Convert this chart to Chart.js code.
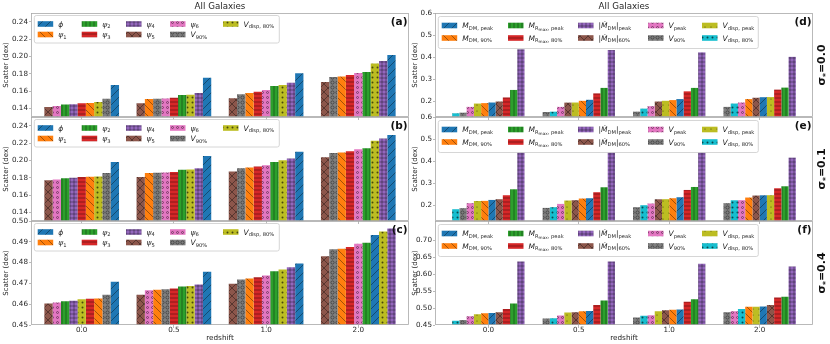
<!DOCTYPE html>
<html>
<head>
<meta charset="utf-8">
<script src="https://cdn.jsdelivr.net/npm/chart.js@4.4.0/dist/chart.umd.min.js"></script>
<style>
  html, body { margin: 0; padding: 0; background: #fff; }
  #wrap { position: relative; width: 830px; height: 344px; }
  #wrap canvas { position: absolute; left: 0; top: 0; }
</style>
</head>
<body>
<div id="wrap"></div>
<script>
// redshift bins (x categories)
const redshifts = ['0.0', '0.5', '1.0', '2.0'];

// left column series: phi, psi1..psi6, V90%, Vdisp,80%
const leftLabels = ['ϕ', 'ψ_1', 'ψ_2', 'ψ_3', 'ψ_4', 'ψ_5', 'ψ_6', 'V_{90%}', 'V_{disp, 80%}'];
// right column series
const rightLabels = ['M_{DM, peak}', 'M_{DM, 90%}', 'M_{R_{max}, peak}', 'M_{R_{max}, 80%}',
  '|Ṁ_{DM}|_{peak}', '|Ṁ_{DM}|_{60%}', 'V_{peak}', 'V_{90%}', 'V_{disp, peak}', 'V_{disp, 80%}'];

// scatter per series (rows, legend order) and redshift (columns)
const scatterA = [
  [0.167, 0.1754, 0.1805, 0.2016],
  [0.1461, 0.1508, 0.1577, 0.1766],
  [0.1444, 0.1553, 0.1658, 0.182],
  [0.1458, 0.1523, 0.1592, 0.1785],
  [0.1447, 0.1577, 0.1696, 0.1947],
  [0.1415, 0.1458, 0.1516, 0.1704],
  [0.1427, 0.1514, 0.1612, 0.1808],
  [0.151, 0.1511, 0.1562, 0.1762],
  [0.1473, 0.1557, 0.1669, 0.1916]
];
const scatterB = [
  [0.1981, 0.2051, 0.2098, 0.2292],
  [0.1811, 0.1855, 0.1916, 0.2091],
  [0.1792, 0.1891, 0.1981, 0.214],
  [0.1808, 0.1866, 0.1928, 0.2106],
  [0.18, 0.1908, 0.2021, 0.2253],
  [0.1769, 0.1807, 0.187, 0.2036],
  [0.178, 0.1861, 0.1943, 0.2129],
  [0.1853, 0.1858, 0.1908, 0.2086],
  [0.1814, 0.1894, 0.2001, 0.2226]
];
const scatterC = [
  [0.4708, 0.4756, 0.4796, 0.4933],
  [0.4628, 0.467, 0.4724, 0.4867],
  [0.4614, 0.4685, 0.4759, 0.4896],
  [0.4626, 0.4675, 0.473, 0.4875],
  [0.4617, 0.4695, 0.4778, 0.4964],
  [0.4603, 0.4645, 0.4698, 0.4831],
  [0.4608, 0.4667, 0.4738, 0.4891],
  [0.4645, 0.4672, 0.4719, 0.4864],
  [0.4624, 0.4688, 0.4767, 0.4949]
];
const scatterD = [
  [0.1954, 0.2078, 0.211, 0.2195],
  [0.1927, 0.2032, 0.2064, 0.211],
  [0.2523, 0.2615, 0.2615, 0.2628],
  [0.2183, 0.2367, 0.2459, 0.2537],
  [0.4358, 0.4326, 0.422, 0.4018],
  [0.2, 0.195, 0.2, 0.217],
  [0.1757, 0.1757, 0.179, 0.1954],
  [0.1495, 0.1527, 0.1541, 0.1757],
  [0.1908, 0.1954, 0.2032, 0.22],
  [0.1468, 0.1541, 0.1679, 0.1908]
];
const scatterE = [
  [0.2252, 0.2329, 0.2374, 0.2462],
  [0.2209, 0.2315, 0.2329, 0.236],
  [0.2734, 0.2824, 0.2838, 0.2869],
  [0.2464, 0.26, 0.2703, 0.2779],
  [0.441, 0.441, 0.441, 0.4162],
  [0.2284, 0.2239, 0.2282, 0.245],
  [0.2104, 0.2072, 0.209, 0.2241],
  [0.1878, 0.1892, 0.1923, 0.2104],
  [0.2205, 0.2225, 0.2286, 0.2466],
  [0.1833, 0.1923, 0.2014, 0.2237]
];
const scatterF = [
  [0.4852, 0.4916, 0.4958, 0.5044],
  [0.4845, 0.4905, 0.4952, 0.5038],
  [0.5139, 0.5227, 0.5265, 0.5332],
  [0.4974, 0.509, 0.5186, 0.5314],
  [0.6378, 0.6378, 0.6311, 0.6233],
  [0.4878, 0.4878, 0.4936, 0.509],
  [0.4762, 0.4779, 0.4791, 0.4907],
  [0.4645, 0.4693, 0.4721, 0.4878],
  [0.482, 0.4866, 0.4907, 0.5041],
  [0.4625, 0.4703, 0.477, 0.4974]
];

// y tick values
const yTicksAB = [0.14, 0.16, 0.18, 0.20, 0.22, 0.24];
const yTicksC = [0.45, 0.46, 0.47, 0.48, 0.49, 0.50];
const yTicksDE = [0.2, 0.3, 0.4, 0.5, 0.6];
const yTicksF = [0.45, 0.50, 0.55, 0.60, 0.65, 0.70];

const sigmaLevels = ['0.0', '0.1', '0.4'];

// styles
const leftColors = ['#1f77b4', '#ff7f0e', '#2ca02c', '#d62728', '#9467bd', '#8c564b', '#e377c2', '#7f7f7f', '#bcbd22'];
const leftHatches = ['/', '\\', '|', '-', '+', 'x', 'o', 'O', '*'];
const rightColors = ['#1f77b4', '#ff7f0e', '#2ca02c', '#d62728', '#9467bd', '#8c564b', '#e377c2', '#7f7f7f', '#bcbd22', '#17becf'];
const rightHatches = ['/', '\\', '|', '-', '+', 'x', 'o', 'O', '.', '*'];

const FONT = "'DejaVu Sans', sans-serif";
const INK = '#262626';
const FRAME = '#a8a8a8';
const HATCH_INK = 'rgba(0,0,0,0.62)';

const columns = [
  { left: 31, right: 409, xMin: -0.55, xMax: 3.55, barSpan: 0.81, labels: leftLabels,
    colors: leftColors, hatches: leftHatches, legendW: 245, legendH: 27.5, legendTop: 2.5,
    legendRows: [8.5, 19], legendCols: [3.4, 47.4, 91.7, 135.7, 188.7], yLabelX: 6 },
  { left: 435, right: 813, xMin: -0.59, xMax: 3.59, barSpan: 0.80, labels: rightLabels,
    colors: rightColors, hatches: rightHatches, legendW: 320, legendH: 32, legendTop: 3.5,
    legendRows: [9, 21.5], legendCols: [3.4, 69.7, 139.7, 209.7, 263.7], yLabelX: 415.5 }
];
const rowTops = [13, 117, 221];
const ROW_H = 104;

const panels = [
  { tag: '(a)', col: 0, row: 0, values: scatterA, yMin: 0.13, yMax: 0.25, ticks: yTicksAB, digits: 2 },
  { tag: '(b)', col: 0, row: 1, values: scatterB, yMin: 0.13, yMax: 0.25, ticks: yTicksAB, digits: 2 },
  { tag: '(c)', col: 0, row: 2, values: scatterC, yMin: 0.45, yMax: 0.50, ticks: yTicksC, digits: 2 },
  { tag: '(d)', col: 1, row: 0, values: scatterD, yMin: 0.13, yMax: 0.60, ticks: yTicksDE, digits: 1 },
  { tag: '(e)', col: 1, row: 1, values: scatterE, yMin: 0.13, yMax: 0.60, ticks: yTicksDE, digits: 1 },
  { tag: '(f)', col: 1, row: 2, values: scatterF, yMin: 0.45, yMax: 0.7575, ticks: yTicksF, digits: 2 }
];

function makePattern(ctx, color, hatch) {
  const size = { '/': 8, '\\': 8, 'x': 8, '|': 4, '-': 4, '+': 4, 'o': 5, 'O': 5, '*': 5, '.': 6 }[hatch];
  const tile = document.createElement('canvas');
  tile.width = tile.height = size;
  const g = tile.getContext('2d');
  g.fillStyle = color;
  g.fillRect(0, 0, size, size);
  g.strokeStyle = HATCH_INK;
  g.fillStyle = HATCH_INK;
  g.lineWidth = 0.6;
  const line = (x1, y1, x2, y2) => { g.beginPath(); g.moveTo(x1, y1); g.lineTo(x2, y2); g.stroke(); };
  if (hatch === '/' || hatch === 'x') {
    line(-1, size + 1, size + 1, -1); line(-1, 1, 1, -1); line(size - 1, size + 1, size + 1, size - 1);
  }
  if (hatch === '\\' || hatch === 'x') {
    line(-1, -1, size + 1, size + 1); line(size - 1, -1, size + 1, 1); line(-1, size - 1, 1, size + 1);
  }
  if (hatch === '|' || hatch === '+') line(size / 2, 0, size / 2, size);
  if (hatch === '-' || hatch === '+') line(0, size / 2, size, size / 2);
  if (hatch === 'o' || hatch === 'O') {
    g.beginPath(); g.arc(size / 2, size / 2, hatch === 'o' ? 1.0 : 1.6, 0, 2 * Math.PI); g.stroke();
  }
  if (hatch === '*' || hatch === '.') {
    g.beginPath(); g.arc(size / 2, size / 2, hatch === '*' ? 1.0 : 0.6, 0, 2 * Math.PI); g.fill();
  }
  return ctx.createPattern(tile, 'repeat');
}

// tiny mathtext: x_{sub} and x_c, nested
function parseMath(s) {
  const runs = [];
  function walk(str, level) {
    let i = 0;
    while (i < str.length) {
      if (str[i] === '_') {
        let j = i + 1, sub;
        if (str[j] === '{') {
          let depth = 1, k = j + 1;
          while (depth > 0) {
            if (str[k] === '{') depth++;
            else if (str[k] === '}') depth--;
            k++;
          }
          sub = str.slice(j + 1, k - 1);
          i = k;
        } else {
          sub = str[j];
          i = j + 1;
        }
        walk(sub, level + 1);
      } else {
        runs.push({ ch: str[i], level });
        i++;
      }
    }
  }
  walk(s, 0);
  return runs;
}

function drawMath(ctx, str, x, baseline) {
  const sizes = [7.5, 5.2, 4.2];
  const drops = [0, 1.6, 2.8];
  let cx = x;
  ctx.textAlign = 'left';
  ctx.textBaseline = 'alphabetic';
  for (const r of parseMath(str)) {
    const italic = r.level === 0 && /[A-Za-zϕψṀ]/.test(r.ch);
    ctx.font = (italic ? 'italic ' : '') + sizes[r.level] + 'px ' + FONT;
    ctx.fillText(r.ch, cx, baseline + drops[r.level]);
    cx += ctx.measureText(r.ch).width;
  }
}

function decor(p, col, patterns) {
  return {
    id: 'decor',
    afterDraw(chart) {
      const ctx = chart.ctx;
      const { left, right, top, bottom } = chart.chartArea;
      ctx.save();

      // axes frame
      ctx.strokeStyle = FRAME;
      ctx.lineWidth = 0.8;
      ctx.strokeRect(left + 0.5, top + 0.5, right - left - 1, bottom - top - 1);

      // legend
      const lx = left + 3.3, ly = top + col.legendTop;
      ctx.beginPath();
      ctx.roundRect(lx, ly, col.legendW, col.legendH, 2);
      ctx.fillStyle = 'rgba(255,255,255,0.85)';
      ctx.fill();
      ctx.strokeStyle = '#cccccc';
      ctx.lineWidth = 0.8;
      ctx.stroke();
      col.labels.forEach((label, i) => {
        const sx = lx + col.legendCols[Math.floor(i / 2)];
        const sy = ly + col.legendRows[i % 2];
        ctx.fillStyle = patterns[i];
        ctx.fillRect(sx, sy - 2.8, 15.5, 5.6);
        ctx.fillStyle = INK;
        drawMath(ctx, label, sx + 20.5, sy + 2.6);
      });

      // panel tag
      ctx.fillStyle = '#111';
      ctx.font = 'bold 10.5px ' + FONT;
      ctx.textAlign = 'right';
      ctx.textBaseline = 'top';
      ctx.fillText(p.tag, right - 1.5, top + 4);

      // y label
      const cy = (top + bottom) / 2;
      ctx.fillStyle = INK;
      ctx.font = '7px ' + FONT;
      ctx.save();
      ctx.translate(col.yLabelX, cy);
      ctx.rotate(-Math.PI / 2);
      ctx.textAlign = 'center';
      ctx.textBaseline = 'middle';
      ctx.fillText('Scatter (dex)', 0, 0);
      ctx.restore();

      const midX = (left + right) / 2;
      if (p.row === 0) {
        ctx.font = '8.7px ' + FONT;
        ctx.textAlign = 'center';
        ctx.textBaseline = 'middle';
        ctx.fillText('All Galaxies', midX, 6.5);
      }
      if (p.row === 2) {
        ctx.font = '7.3px ' + FONT;
        ctx.textAlign = 'center';
        ctx.textBaseline = 'middle';
        ctx.fillText('redshift', midX, 338.5);
      }

      // sigma label on the right column
      if (p.col === 1) {
        const parts = [
          { t: 'σ', f: 'bold 11px ' + FONT, d: 0 },
          { t: '*', f: 'bold 7.5px ' + FONT, d: 2.5 },
          { t: '=' + sigmaLevels[p.row], f: 'bold 11px ' + FONT, d: 0 }
        ];
        let total = 0;
        parts.forEach(q => { ctx.font = q.f; q.w = ctx.measureText(q.t).width; total += q.w; });
        ctx.save();
        ctx.translate(821, cy);
        ctx.rotate(-Math.PI / 2);
        ctx.fillStyle = '#111';
        ctx.textAlign = 'left';
        ctx.textBaseline = 'alphabetic';
        let x = -total / 2;
        parts.forEach(q => { ctx.font = q.f; ctx.fillText(q.t, x, 4 + q.d); x += q.w; });
        ctx.restore();
      }
      ctx.restore();
    }
  };
}

function makePanel(p) {
  const col = columns[p.col];
  const top = rowTops[p.row];
  const bottom = top + ROW_H;
  const canvas = document.createElement('canvas');
  canvas.width = 830;
  canvas.height = 344;
  document.getElementById('wrap').appendChild(canvas);
  const ctx = canvas.getContext('2d');
  const patterns = col.colors.map((c, i) => makePattern(ctx, c, col.hatches[i]));

  // bars inside each redshift group are sorted from lowest to highest scatter
  const order = redshifts.map((_, g) =>
    p.values.map((_, s) => s).sort((s1, s2) => p.values[s1][g] - p.values[s2][g]));
  const datasets = p.values.map((_, r) => ({
    data: redshifts.map((_, g) => ({ x: g, y: p.values[order[g][r]][g] })),
    backgroundColor: redshifts.map((_, g) => patterns[order[g][r]]),
    borderWidth: 0,
    categoryPercentage: col.barSpan,
    barPercentage: 1
  }));

  new Chart(ctx, {
    type: 'bar',
    data: { datasets },
    options: {
      responsive: false,
      animation: false,
      devicePixelRatio: 1,
      layout: {
        padding: { left: col.left - 30, right: 830 - col.right, top: top, bottom: 344 - 16 - bottom }
      },
      plugins: { legend: { display: false }, tooltip: { enabled: false } },
      scales: {
        x: {
          type: 'linear',
          min: col.xMin,
          max: col.xMax,
          offset: false,
          afterBuildTicks: s => { s.ticks = redshifts.map((_, i) => ({ value: i })); },
          afterFit: s => { s.height = 16; },
          ticks: {
            display: p.row === 2,
            callback: v => redshifts[v],
            font: { family: FONT, size: 7.2 },
            color: INK,
            padding: -2,
            maxRotation: 0,
            autoSkip: false
          },
          grid: { offset: false, drawOnChartArea: false, drawTicks: true, tickLength: 3, color: FRAME, lineWidth: 0.8 },
          border: { display: false }
        },
        y: {
          min: p.yMin,
          max: p.yMax,
          afterBuildTicks: s => { s.ticks = p.ticks.map(v => ({ value: v })); },
          afterFit: s => { s.width = 30; },
          ticks: {
            callback: v => v.toFixed(p.digits),
            font: { family: FONT, size: 7.2 },
            color: INK,
            padding: 1
          },
          grid: { drawOnChartArea: false, drawTicks: true, tickLength: 2, color: FRAME, lineWidth: 0.8 },
          border: { display: false }
        }
      }
    },
    plugins: [decor(p, col, patterns)]
  });
}

panels.forEach(makePanel);
</script>
</body>
</html>
